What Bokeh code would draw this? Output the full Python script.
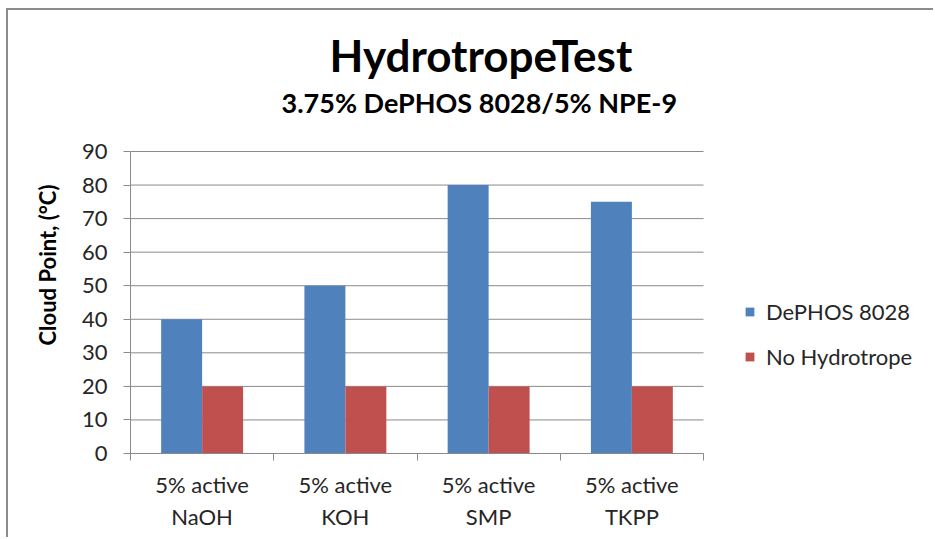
import numpy as np
from bokeh.plotting import figure
from bokeh.models import (Range1d, LinearAxis, FixedTicker,
                          Legend, LegendItem, Title, Grid, ColumnDataSource)
from bokeh.embed import file_html
from bokeh.resources import INLINE

# ---- data ----
categories = ["5% active\nNaOH", "5% active\nKOH", "5% active\nSMP", "5% active\nTKPP"]
dephos_8028 = [40, 50, 80, 75]
no_hydrotrope = [20, 20, 20, 20]
series_names = ["DePHOS 8028", "No Hydrotrope"]
y_ticks = [0, 10, 20, 30, 40, 50, 60, 70, 80, 90]
title_text = "HydrotropeTest"
subtitle_text = "3.75% DePHOS 8028/5% NPE-9"
y_label = "Cloud Point, (°C)"

FONT = "Lato"
GRID = "#8a8a8a"
TXT = "#262626"
BLUE = "#4F81BD"
RED = "#C0504D"
BAR_W = 0.286

n = len(categories)
centers = np.arange(n) + 0.5
src = ColumnDataSource(dict(xd=centers - BAR_W / 2, xn=centers + BAR_W / 2,
                            d=dephos_8028, n=no_hydrotrope))
grid_src = ColumnDataSource(dict(x0=[0] * len(y_ticks), x1=[n] * len(y_ticks), y=y_ticks))

# the frame also holds the legend area (right) and some headroom (top)
x_end = n * 797 / 573
y_end = y_ticks[-1] * 333 / 302

p = figure(width=927, height=529,
           x_range=Range1d(0, x_end),
           y_range=Range1d(y_ticks[0], y_end),
           output_backend="svg", toolbar_location=None,
           x_axis_location=None, y_axis_location=None,
           min_border_left=122, min_border_right=8,
           min_border_top=110, min_border_bottom=86)
p.outline_line_color = None
p.background_fill_color = "white"
p.border_fill_color = "white"
p.center = [c for c in p.center if not isinstance(c, Grid)]

# horizontal gridlines across the category area only
p.segment(x0="x0", x1="x1", y0="y", y1="y", source=grid_src, line_color=GRID, line_width=1)

# y axis
yaxis = LinearAxis(ticker=FixedTicker(ticks=y_ticks), bounds=(y_ticks[0], y_ticks[-1]),
                   major_label_text_font=FONT, major_label_text_font_size="22px",
                   major_label_text_color=TXT, major_label_standoff=16,
                   major_tick_out=7, major_tick_in=0, minor_tick_line_color=None,
                   axis_line_color=GRID, major_tick_line_color=GRID)
p.add_layout(yaxis, "left")
ylab = Title(text=y_label, align="left", offset=108, standoff=36, text_font=FONT,
             text_font_size="22px", text_font_style="bold", text_color="black")
p.add_layout(ylab, "left")

# category axis: labels at centres, tick marks between categories
xaxis = LinearAxis(ticker=FixedTicker(ticks=list(centers), minor_ticks=list(range(n + 1))),
                   major_label_overrides={float(c): lab for c, lab in zip(centers, categories)},
                   bounds=(0, n),
                   axis_line_color=GRID, major_tick_line_color=None,
                   minor_tick_line_color=GRID, minor_tick_out=7, minor_tick_in=0,
                   major_tick_out=7, major_tick_in=0,
                   major_label_text_font=FONT, major_label_text_font_size="22px",
                   major_label_text_color=TXT, major_label_standoff=10)
p.add_layout(xaxis, "below")

# bars
r1 = p.vbar(x="xd", top="d", width=BAR_W, source=src, fill_color=BLUE, line_color=None)
r2 = p.vbar(x="xn", top="n", width=BAR_W, source=src, fill_color=RED, line_color=None)

legend = Legend(items=[LegendItem(label=series_names[0], renderers=[r1]),
                       LegendItem(label=series_names[1], renderers=[r2])],
                location=(614, 83), glyph_width=11, glyph_height=11,
                label_text_font=FONT, label_text_font_size="22px", label_text_color=TXT,
                label_standoff=11, spacing=18, padding=0, margin=0, label_height=20,
                border_line_color=None, background_fill_alpha=0)
p.add_layout(legend)

# titles
p.title.text = title_text
p.title.align = "left"
p.title.offset = 199
p.title.text_font = FONT
p.title.text_font_size = "44px"
p.title.text_font_style = "bold"
p.title.text_color = "black"
p.title.standoff = 2
sub = Title(text=subtitle_text, align="left", offset=151, text_font=FONT,
            text_font_size="27px", text_font_style="bold", text_color="black", standoff=4)
p.add_layout(sub, "above")

p.styles = {"margin-left": "6px", "margin-top": "8px",
            "border-left": "2px solid #8c8c8c", "border-top": "2px solid #8c8c8c"}

open("out.html", "w").write(file_html(p, INLINE))
